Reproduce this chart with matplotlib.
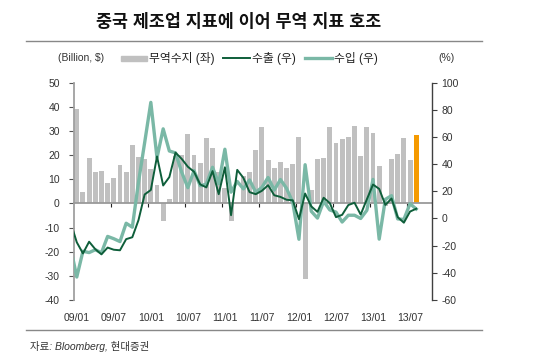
import numpy as np
import matplotlib
matplotlib.use('Agg')
import matplotlib.pyplot as plt
import matplotlib.transforms as mtransforms
from matplotlib.lines import Line2D
from matplotlib.patches import Rectangle

plt.rcParams['font.family'] = ['Liberation Sans', 'Noto Sans CJK KR']
plt.rcParams['axes.unicode_minus'] = False

# 무역수지 (Billion $), 09/01 ~ 13/08
balance = [39.1, 4.8, 18.6, 13.1, 13.4, 8.3, 10.6, 15.7, 12.9, 24.0, 19.1, 18.4,
           14.2, 7.6, -7.2, 1.7, 19.5, 20.0, 28.7, 20.0, 16.9, 27.1, 22.9, 13.1,
           6.5, -7.3, 0.1, 11.4, 13.1, 22.3, 31.5, 17.8, 14.5, 17.0, 14.5, 16.5,
           27.3, -31.5, 5.4, 18.4, 18.7, 31.7, 25.1, 26.7, 27.7, 32.0, 19.6, 31.6,
           29.2, 15.3, -0.9, 18.2, 20.4, 27.1, 17.8, 28.5]
# 수출 / 수입 증가율 (%), 08/12 ~ 13/08
exports = [-2.8,
           -17.5, -25.7, -17.1, -22.6, -26.4, -21.4, -23.0, -23.4, -15.2, -13.8, -1.2, 17.7,
           21.0, 45.7, 24.3, 30.5, 48.5, 43.9, 38.1, 34.4, 25.1, 22.9, 34.9, 17.9,
           37.7, 2.4, 35.8, 29.9, 19.4, 17.9, 20.4, 24.5, 17.1, 15.9, 13.8, 13.4,
           -0.5, 18.4, 8.9, 4.9, 15.3, 11.3, 1.0, 2.7, 9.9, 11.6, 2.9, 14.1,
           25.0, 21.8, 10.0, 14.7, 1.0, -3.1, 5.1, 7.2]
imports = [-21.3,
           -43.1, -24.1, -25.1, -23.0, -25.2, -13.2, -14.9, -17.0, -3.5, -6.4, 26.7, 55.9,
           85.5, 44.7, 66.0, 49.7, 48.3, 34.1, 22.7, 35.2, 24.1, 25.3, 37.7, 25.6,
           51.0, 19.4, 27.3, 21.8, 28.4, 19.3, 22.9, 30.2, 20.9, 28.7, 22.1, 11.8,
           -15.3, 39.6, 5.3, 0.3, 12.7, 6.3, 4.7, -2.6, 2.4, 2.4, 0.0, 6.0,
           28.8, -15.2, 14.1, 16.8, -0.3, -0.7, 10.9, 7.0]
xlabels = ['09/01', '09/07', '10/01', '10/07', '11/01', '11/07', '12/01', '12/07', '13/01', '13/07']

GRAY = '#c0c0c0'
ORANGE = '#f59a00'
DARK = '#0e5e3a'
TEAL = '#7ab8a6'

fig = plt.figure(figsize=(5.45, 3.61), dpi=100)
ax = fig.add_axes([0.1352, 0.169, 0.6568, 0.602])
ax2 = ax.twinx()

xb = np.arange(len(balance))
cols = [GRAY] * (len(balance) - 1) + [ORANGE]
ax.bar(xb, balance, width=0.8, color=cols, zorder=2)

xl = np.arange(len(exports)) - 1
ax2.plot(xl, imports, color=TEAL, lw=2.4, zorder=3)
ax2.plot(xl, exports, color=DARK, lw=1.4, zorder=4)

ax.set_xlim(-0.5, 57.5)
ax.set_ylim(-40, 50)
ax.set_yticks(range(-40, 51, 10))
ax2.set_ylim(-60, 100)
ax2.set_yticks(range(-60, 101, 20))

for s in ['top', 'right']:
    ax.spines[s].set_visible(False)
for s in ['top', 'left', 'bottom']:
    ax2.spines[s].set_visible(False)
ax.spines['bottom'].set_position(('data', 0))
ax.spines['bottom'].set_color('#9a9a9a')
ax.spines['bottom'].set_linewidth(1.3)
ax.spines['bottom'].set_zorder(2.5)
ax.spines['left'].set_color('#a0a0a0')
ax.spines['left'].set_linewidth(1.3)
ax2.spines['right'].set_color('#404040')
ax2.spines['right'].set_linewidth(1.0)

ax.set_xticks(np.arange(5.5, 56, 6))
ax.tick_params(axis='x', length=3, width=0.8, color='#222222', labelbottom=False)
ax.tick_params(axis='y', length=3.5, width=0.8, color='#555555', labelsize=7.5,
               labelcolor='#333333', pad=6.5)
ax2.tick_params(axis='y', length=3.5, width=0.8, color='#404040', labelsize=7.5,
                labelcolor='#333333', pad=3.5)

trans = mtransforms.blended_transform_factory(ax.transData, ax.transAxes)
for i, lab in enumerate(xlabels):
    ax.text(i * 6, -0.081, lab, transform=trans, ha='center', va='center',
            fontsize=7.5, color='#333333')

# title and rules
fig.text(0.437, 0.940, '중국 제조업 지표에 이어 무역 지표 호조', ha='center', va='center',
         fontsize=12.5, fontweight='bold', color='#111111')
fig.add_artist(Line2D([0.0477, 0.884], [0.886, 0.886], color='#888888', lw=1.0))
fig.add_artist(Line2D([0.0477, 0.884], [0.087, 0.087], color='#888888', lw=1.0))
fig.text(0.0545, 0.0407, '자료: Bloomberg, 현대증권', ha='left', va='center',
         fontsize=7.5, style='italic', color='#333333')

# legend row
ly = 0.838
fig.text(0.148, ly, '(Billion, $)', ha='center', va='center', fontsize=7.5, color='#333333')
fig.add_artist(Rectangle((120.7 / 545, ly - 2.85 / 361), 26 / 545, 5.7 / 361,
                         color=GRAY, transform=fig.transFigure))
fig.text(149.3 / 545, ly, '무역수지 (좌)', ha='left', va='center', fontsize=8.5, color='#222222')
fig.add_artist(Line2D([223.3 / 545, 250 / 545], [ly, ly], color=DARK, lw=1.4))
fig.text(252 / 545, ly, '수출 (우)', ha='left', va='center', fontsize=8.5, color='#222222')
fig.add_artist(Line2D([305 / 545, 331.7 / 545], [ly, ly], color=TEAL, lw=2.4))
fig.text(334 / 545, ly, '수입 (우)', ha='left', va='center', fontsize=8.5, color='#222222')
fig.text(438 / 545, ly, '(%)', ha='left', va='center', fontsize=7.5, color='#333333')

fig.savefig('out.png', dpi=100)
